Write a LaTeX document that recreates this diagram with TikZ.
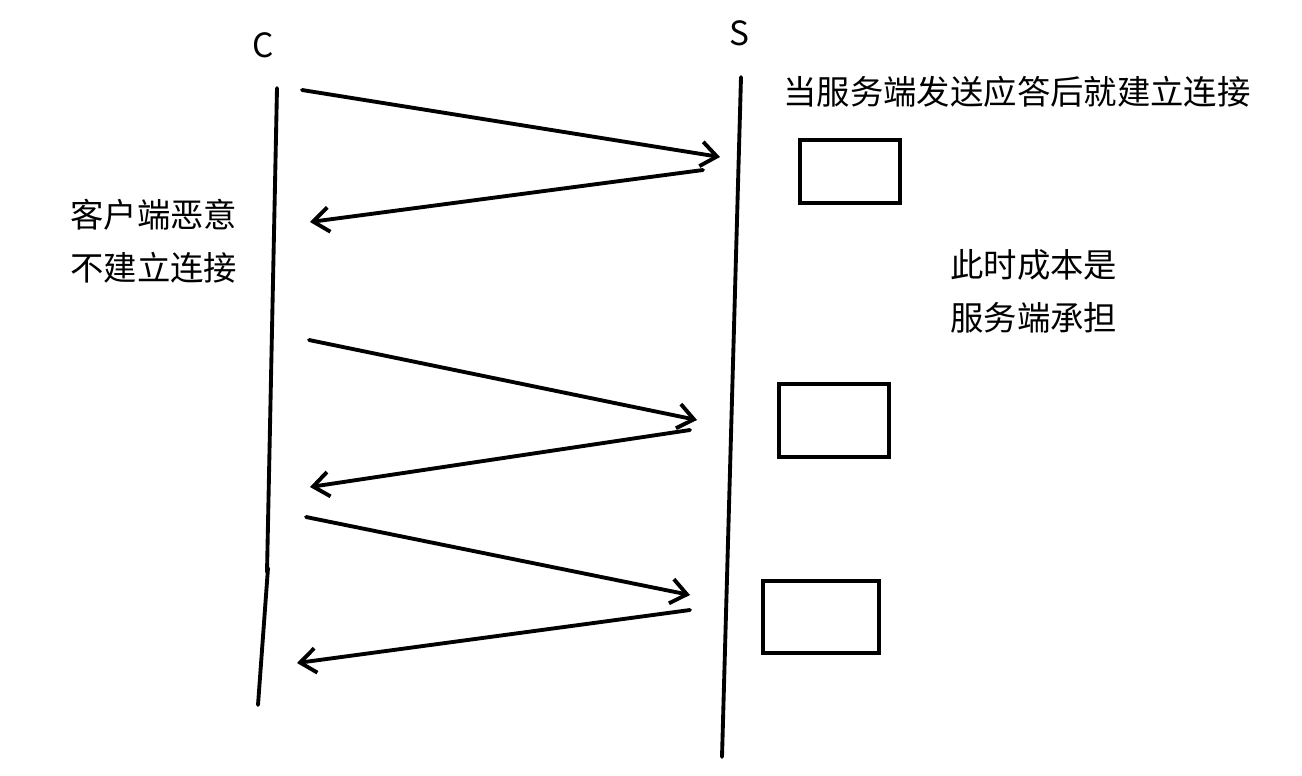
\documentclass[tikz,border=0pt]{standalone}
\usepackage{fontspec}
\setmainfont{Noto Sans CJK SC}
\usetikzlibrary{arrows.meta}
\tikzset{x=0.02cm, y=-0.02cm,
  stroke/.style={line width=2.2pt, line cap=round},
  msg/.style={stroke, -{Straight Barb[length=9pt, width=14pt, line width=2.2pt]}},
  slot/.style={draw, line width=2.2pt, minimum width=0cm},
  note/.style={font=\fontsize{19}{26}\selectfont, align=left, inner sep=0pt}}

\begin{document}
\begin{tikzpicture}
   \useasboundingbox (0,0) rectangle (1302,775);
   % the two parties
   \node(c) [note] at (263,45) {C};
   \node(s) [note] at (739,33) {S};
   \coordinate (c1) at (277,88);
   \coordinate (c2) at (267,572);
   \coordinate (c3) at (268,568);
   \coordinate (c4) at (258,705);
   \coordinate (s1) at (741,77);
   \coordinate (s2) at (722,757);
   \draw[stroke] (c1) -- (c2);
   \draw[stroke] (c3) -- (c4);
   \draw[stroke] (s1) -- (s2);
   % handshakes
   \coordinate (a1) at (302,90);   \coordinate (b1) at (720,157);
   \coordinate (b2) at (703,170);  \coordinate (a2) at (310,222);
   \coordinate (a3) at (309,340);  \coordinate (b3) at (697,420);
   \coordinate (b4) at (690,430);  \coordinate (a4) at (310,487);
   \coordinate (a5) at (306,517);  \coordinate (b5) at (690,595);
   \coordinate (b6) at (690,610);  \coordinate (a6) at (297,663);
   \draw[msg] (a1) -- (b1);
   \draw[msg] (b2) -- (a2);
   \draw[msg] (a3) -- (b3);
   \draw[msg] (b4) -- (a4);
   \draw[msg] (a5) -- (b5);
   \draw[msg] (b6) -- (a6);
   % half-open connections on the server
   \draw[slot] (800,140) rectangle (900,203);
   \draw[slot] (779,384) rectangle (889,457);
   \draw[slot] (763,581) rectangle (879,653);
   % notes
   \node(n1) [note, anchor=west] at (783,92) {当服务端发送应答后就建立连接};
   \node(n2) [note, anchor=west] at (70,241) {客户端恶意\\[4pt]不建立连接};
   \node(n3) [note, anchor=west] at (950,291) {此时成本是\\[4pt]服务端承担};
\end{tikzpicture}
\end{document}
